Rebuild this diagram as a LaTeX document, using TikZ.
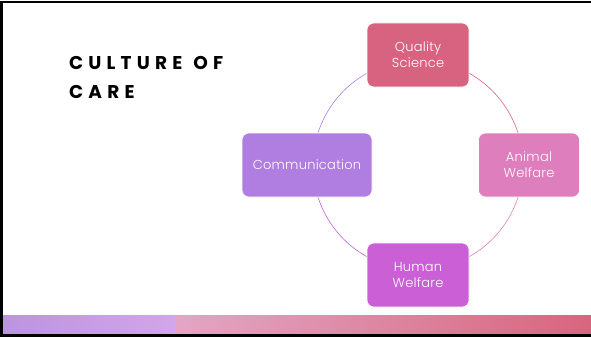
\documentclass[tikz,border=0pt]{standalone}
\usepackage{fontspec}
\setmainfont{Poppins}
\newfontfamily\titlefont[LetterSpace=28]{Poppins}
\newfontfamily\boxfont[LetterSpace=2]{Poppins Light}
\begin{document}
\begin{tikzpicture}[x=1pt,y=-1pt,
  cyclebox/.style={rounded corners=7pt, draw=white, line width=0.6pt,
    minimum width=102pt, minimum height=64pt, inner sep=0pt,
    text=white, align=center, font=\boxfont\fontsize{13}{16}\selectfont},
  ring/.style={line width=0.6pt}]
  \useasboundingbox (0,0) rectangle (591,337);
  \fill[white] (0,0) rectangle (591,337);

  % bottom colour band
  \shade[left color={rgb,255:red,187;green,148;blue,224}, right color={rgb,255:red,210;green,166;blue,232}]
    (2,315) rectangle (176,334);
  \shade[left color={rgb,255:red,226;green,166;blue,196}, right color={rgb,255:red,216;green,101;blue,126}]
    (176,315) rectangle (591,334);

  % slide frame
  \draw[black, line width=2.5pt] (592,2) -- (1.25,2) -- (1.25,335.5) -- (592,335.5);

  % title
  \node[anchor=base west, inner sep=0pt, font=\titlefont\bfseries\fontsize{18.5}{22}\selectfont]
    (t1) at (69,70) {CULTURE~\kern2pt OF};
  \node[anchor=base west, inner sep=0pt, font=\titlefont\bfseries\fontsize{18.5}{22}\selectfont]
    (t2) at (69,98) {CARE};

  % ring behind the boxes (y axis points down, so the top is at -90)
  \coordinate (c) at (418,165);
  \draw[ring, draw={rgb,255:red,216;green,99;blue,128}] (418,60) arc[start angle=-90, end angle=0, radius=105];
  \draw[ring, draw={rgb,255:red,222;green,126;blue,189}] (523,165) arc[start angle=0, end angle=90, radius=105];
  \draw[ring, draw={rgb,255:red,203;green,96;blue,214}] (418,270) arc[start angle=90, end angle=180, radius=105];
  \draw[ring, draw={rgb,255:red,176;green,126;blue,224}] (313,165) arc[start angle=180, end angle=270, radius=105];

  % boxes
  \node[cyclebox, fill={rgb,255:red,216;green,99;blue,128}] (q) at (418,55) {Quality\\Science};
  \node[cyclebox, fill={rgb,255:red,222;green,126;blue,189}, minimum width=101pt] (a) at (529,165) {Animal\\Welfare};
  \node[cyclebox, fill={rgb,255:red,203;green,96;blue,214}] (h) at (418,275) {Human\\Welfare};
  \node[cyclebox, fill={rgb,255:red,176;green,126;blue,224}, minimum width=130pt] (m) at (307,165) {Communication};
\end{tikzpicture}
\end{document}
